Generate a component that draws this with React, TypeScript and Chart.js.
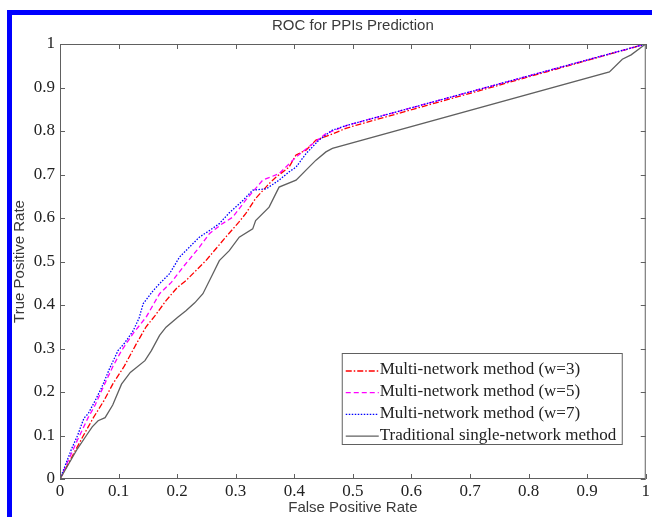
import React, { useEffect, useRef } from "react";
import { Chart, registerables } from "chart.js";

Chart.register(...registerables);

// ---- Data ----
const TITLE = "ROC for PPIs Prediction";
const X_LABEL = "False Positive Rate";
const Y_LABEL = "True Positive Rate";

const X_TICKS = [0, 0.1, 0.2, 0.3, 0.4, 0.5, 0.6, 0.7, 0.8, 0.9, 1];
const Y_TICKS = [0, 0.1, 0.2, 0.3, 0.4, 0.5, 0.6, 0.7, 0.8, 0.9, 1];

const SERIES_NAMES = [
  "Multi-network method (w=3)",
  "Multi-network method (w=5)",
  "Multi-network method (w=7)",
  "Traditional single-network method",
];

const W3_FPR = [0, 0.02, 0.04, 0.057, 0.075, 0.09, 0.11, 0.128, 0.147, 0.162, 0.181, 0.2, 0.215, 0.249, 0.283, 0.305, 0.317, 0.334, 0.357, 0.369, 0.391, 0.403, 0.42, 0.437, 0.459, 0.488, 0.505, 1];
const W3_TPR = [0, 0.05, 0.1, 0.141, 0.18, 0.218, 0.26, 0.305, 0.35, 0.375, 0.41, 0.44, 0.456, 0.502, 0.556, 0.59, 0.61, 0.645, 0.679, 0.694, 0.717, 0.745, 0.756, 0.779, 0.79, 0.806, 0.813, 1];

const W5_FPR = [0, 0.015, 0.03, 0.048, 0.06, 0.075, 0.09, 0.105, 0.125, 0.147, 0.17, 0.19, 0.21, 0.238, 0.255, 0.275, 0.295, 0.317, 0.346, 0.374, 0.403, 0.425, 0.454, 0.49, 1];
const W5_TPR = [0, 0.045, 0.09, 0.141, 0.17, 0.215, 0.258, 0.295, 0.335, 0.372, 0.426, 0.452, 0.487, 0.533, 0.564, 0.585, 0.602, 0.641, 0.687, 0.702, 0.74, 0.764, 0.794, 0.813, 1];

const W7_FPR = [0, 0.01, 0.02, 0.03, 0.037, 0.041, 0.048, 0.06, 0.071, 0.085, 0.099, 0.11, 0.125, 0.135, 0.142, 0.159, 0.17, 0.187, 0.204, 0.215, 0.238, 0.255, 0.272, 0.289, 0.312, 0.329, 0.352, 0.374, 0.391, 0.403, 0.42, 0.442, 0.465, 0.49, 1];
const W7_TPR = [0, 0.035, 0.07, 0.1, 0.126, 0.14, 0.15, 0.18, 0.21, 0.255, 0.295, 0.312, 0.341, 0.37, 0.403, 0.433, 0.449, 0.472, 0.51, 0.525, 0.556, 0.571, 0.587, 0.612, 0.64, 0.664, 0.667, 0.687, 0.706, 0.717, 0.748, 0.779, 0.802, 0.813, 1];

const TRAD_FPR = [0, 0.015, 0.03, 0.045, 0.055, 0.065, 0.077, 0.09, 0.105, 0.12, 0.145, 0.156, 0.17, 0.181, 0.201, 0.215, 0.23, 0.244, 0.261, 0.272, 0.289, 0.306, 0.329, 0.334, 0.357, 0.374, 0.403, 0.42, 0.437, 0.454, 0.465, 0.938, 0.96, 0.975, 1];
const TRAD_TPR = [0, 0.035, 0.07, 0.1, 0.12, 0.134, 0.141, 0.17, 0.218, 0.245, 0.272, 0.295, 0.33, 0.349, 0.372, 0.387, 0.405, 0.426, 0.472, 0.502, 0.525, 0.556, 0.575, 0.594, 0.625, 0.671, 0.687, 0.71, 0.733, 0.752, 0.76, 0.936, 0.965, 0.975, 1];

const COLORS = ["#ff0000", "#ff00ff", "#0000ff", "#606060"];
const DASHES: number[][] = [[6, 2, 1.5, 2], [5, 3], [1.5, 1.5], []];

const SERIF = "'Liberation Serif', 'Times New Roman', serif";
const SANS = "'Liberation Sans', Arial, sans-serif";
const AXIS_COLOR = "#606060";
const TEXT_COLOR = "#222222";
const LABEL_COLOR = "#3a3a3a";

const fmt = (v: number) => String(Math.round(v * 10) / 10);

const framePlugin = {
  id: "frame",
  afterDatasetsDraw(chart: any) {
    const { ctx, chartArea: a, scales } = chart;
    ctx.save();
    ctx.strokeStyle = AXIS_COLOR;
    ctx.lineWidth = 1;
    ctx.strokeRect(a.left + 0.5, a.top + 0.5, a.right - a.left - 1, a.bottom - a.top - 1);
    const tl = 5;
    ctx.beginPath();
    for (const v of X_TICKS) {
      const px = Math.round(scales.x.getPixelForValue(v)) + 0.5;
      ctx.moveTo(px, a.bottom);
      ctx.lineTo(px, a.bottom - tl);
      ctx.moveTo(px, a.top);
      ctx.lineTo(px, a.top + tl);
    }
    for (const v of Y_TICKS) {
      const py = Math.round(scales.y.getPixelForValue(v)) + 0.5;
      ctx.moveTo(a.left, py);
      ctx.lineTo(a.left + tl, py);
      ctx.moveTo(a.right, py);
      ctx.lineTo(a.right - tl, py);
    }
    ctx.stroke();
    ctx.restore();
  },
};

const legendPlugin = {
  id: "innerLegend",
  afterDraw(chart: any) {
    const { ctx, chartArea: a } = chart;
    const boxW = 281;
    const boxH = 92;
    const x0 = a.right - 23 - boxW;
    const y0 = a.bottom - 126;
    ctx.save();
    ctx.fillStyle = "#ffffff";
    ctx.fillRect(x0, y0, boxW, boxH);
    ctx.strokeStyle = AXIS_COLOR;
    ctx.lineWidth = 1;
    ctx.strokeRect(x0 + 0.5, y0 + 0.5, boxW - 1, boxH - 1);
    ctx.font = `17px ${SERIF}`;
    ctx.textBaseline = "middle";
    ctx.textAlign = "left";
    const rowH = 21.7;
    chart.data.datasets.forEach((ds: any, i: number) => {
      const cy = y0 + 17 + i * rowH;
      ctx.strokeStyle = ds.borderColor;
      ctx.lineWidth = 1.3;
      ctx.setLineDash(ds.borderDash || []);
      ctx.beginPath();
      ctx.moveTo(x0 + 4, cy + 1);
      ctx.lineTo(x0 + 37, cy + 1);
      ctx.stroke();
      ctx.setLineDash([]);
      ctx.fillStyle = TEXT_COLOR;
      ctx.fillText(ds.label, x0 + 38, cy);
    });
    ctx.restore();
  },
};

export default function App() {
  const ref = useRef<HTMLCanvasElement>(null);

  useEffect(() => {
    document.body.style.margin = "0";
    const toPts = (xs: number[], ys: number[]) => xs.map((x, i) => ({ x, y: ys[i] }));
    const series = [
      toPts(W3_FPR, W3_TPR),
      toPts(W5_FPR, W5_TPR),
      toPts(W7_FPR, W7_TPR),
      toPts(TRAD_FPR, TRAD_TPR),
    ];
    const chart = new Chart(ref.current as HTMLCanvasElement, {
      type: "line",
      data: {
        datasets: series.map((data, i) => ({
          label: SERIES_NAMES[i],
          data,
          borderColor: COLORS[i],
          backgroundColor: COLORS[i],
          borderWidth: 1.3,
          borderDash: DASHES[i],
          pointRadius: 0,
          fill: false,
          tension: 0,
          order: 4 - i,
        })),
      },
      options: {
        animation: false,
        responsive: false,
        maintainAspectRatio: false,
        layout: { padding: { left: 0, right: 5, top: 0, bottom: 0 } },
        plugins: {
          legend: { display: false },
          tooltip: { enabled: false },
          title: {
            display: true,
            fullSize: false,
            text: TITLE,
            color: LABEL_COLOR,
            font: { family: SANS, size: 15, weight: "normal" },
            padding: { top: 17, bottom: 9 },
          },
        },
        scales: {
          x: {
            type: "linear",
            min: 0,
            max: 1,
            afterBuildTicks: (s: any) => {
              s.ticks = X_TICKS.map((value) => ({ value }));
            },
            afterFit: (s: any) => {
              s.height = 38;
            },
            grid: { display: false, drawTicks: false },
            border: { display: false },
            ticks: {
              autoSkip: false,
              maxRotation: 0,
              padding: 2,
              color: TEXT_COLOR,
              font: { family: SERIF, size: 17 },
              callback: (v: any) => fmt(Number(v)),
            },
            title: {
              display: true,
              text: X_LABEL,
              color: LABEL_COLOR,
              font: { family: SANS, size: 15 },
              padding: { top: 0, bottom: 0 },
            },
          },
          y: {
            type: "linear",
            min: 0,
            max: 1,
            afterBuildTicks: (s: any) => {
              s.ticks = Y_TICKS.map((value) => ({ value }));
            },
            afterFit: (s: any) => {
              s.width = 60;
            },
            grid: { display: false, drawTicks: false },
            border: { display: false },
            ticks: {
              autoSkip: false,
              padding: 5,
              color: TEXT_COLOR,
              font: { family: SERIF, size: 17 },
              callback: (v: any) => fmt(Number(v)),
            },
            title: {
              display: true,
              text: Y_LABEL,
              color: LABEL_COLOR,
              font: { family: SANS, size: 15 },
              padding: { top: 11, bottom: 0 },
            },
          },
        },
      },
      plugins: [framePlugin, legendPlugin],
    } as any);
    return () => chart.destroy();
  }, []);

  return (
    <div style={{ position: "relative", width: 652, height: 517, background: "#ffffff", overflow: "hidden" }}>
      <canvas ref={ref} width={652} height={517} style={{ display: "block" }} />
      <div style={{ position: "absolute", left: 7, top: 10, width: 645, height: 5, background: "#0000ff" }} />
      <div style={{ position: "absolute", left: 7, top: 10, width: 5, height: 507, background: "#0000ff" }} />
    </div>
  );
}
